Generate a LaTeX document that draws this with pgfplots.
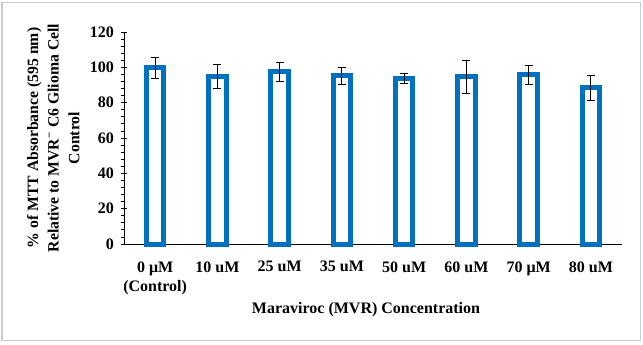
\documentclass[border=0pt]{standalone}
\usepackage{fontspec}
\setmainfont{Liberation Serif}
\usepackage{pgfplots}
\pgfplotsset{compat=1.18}
\definecolor{barblue}{HTML}{0070C0}
\pgfplotstableread{
x y e
0 99.7 6.1
1 95.0 6.7
2 97.5 5.4
3 95.3 4.7
4 93.9 2.8
5 94.8 9.4
6 95.7 5.5
7 88.5 7.2
}\datatable
\begin{document}
\begin{tikzpicture}
\path[use as bounding box] (0,0) rectangle (482.25pt,258pt);
\draw[gray!40, line width=0.8pt] (1.5pt,2.5pt) rectangle (480.5pt,256pt);
\begin{axis}[
  at={(93pt,75pt)}, anchor=south west,
  scale only axis, width=373.5pt, height=159pt,
  xmin=-0.5, xmax=7.5, ymin=0, ymax=120,
  axis lines=left, axis line style={-, line width=0.6pt, black},
  ytick={0,20,...,120}, minor y tick num=4,
  tick align=outside, major tick length=4pt, minor tick length=2.5pt,
  every tick/.style={black, line width=0.6pt},
  major y tick style={xshift=2pt},
  xtick={0,...,7},
  xticklabels={{0 μM\\(Control)},10 uM,25 uM,35 uM,50 uM,60 uM,70 μM,80 uM},
  major x tick style={draw=none},
  /pgf/number format/assume math mode=true,
  yticklabel style={font=\fontsize{12}{13}\bfseries},
  xticklabel style={font=\fontsize{12}{14.25}\bfseries, align=center, yshift=-5.5pt},
  ylabel={\% of MTT Absorbance (595 nm)\\Relative to MVR\textsuperscript{−} C6 Glioma Cell\\Control},
  ylabel style={font=\fontsize{11.8}{15.5}\bfseries, align=center,
    at={(axis description cs:-0.142,0.5)}, anchor=center},
  xlabel={Maraviroc (MVR) Concentration},
  xlabel style={font=\fontsize{12}{13}\bfseries,
    at={(axis description cs:0.486,0)}, anchor=center, yshift=-49.5pt},
  clip=false,
]
\addplot[ybar, bar width=13.3pt, draw=barblue, fill=white, line width=3.75pt,
  error bars/.cd, y dir=both, y explicit,
  error bar style={black, line width=0.6pt},
  error mark options={rotate=90, mark size=3pt, black, line width=0.6pt}]
  table[x=x, y=y, y error=e]{\datatable};
\end{axis}
\end{tikzpicture}
\end{document}
